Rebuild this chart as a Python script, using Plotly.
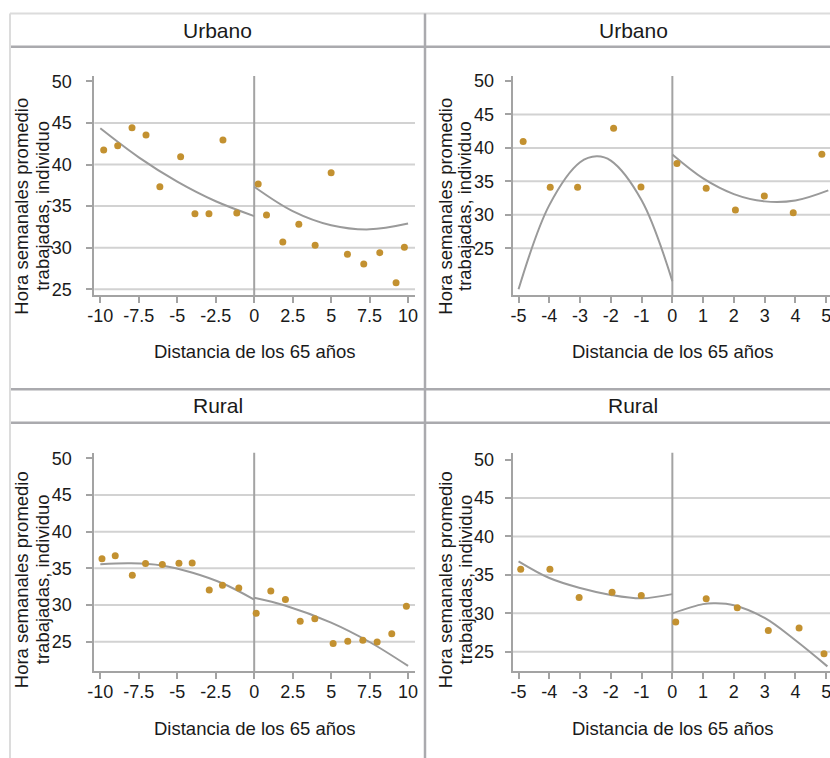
import plotly.graph_objects as go

W, H = 830, 758

# ---------------- data ----------------
# Panel A: Urbano, bandwidth 10
ua_px = [-9.78, -8.87, -7.94, -7.03, -6.13, -4.78, -3.85, -2.94, -2.03, -1.13,
         0.26, 0.80, 1.86, 2.90, 3.96, 5.00, 6.06, 7.12, 8.16, 9.22, 9.76]
ua_py = [41.74, 42.26, 44.43, 43.55, 37.33, 40.94, 34.09, 34.09, 42.95, 34.17,
         37.66, 33.93, 30.68, 32.81, 30.28, 39.02, 29.20, 28.04, 29.40, 25.79, 30.04]
ua_fit_lx = [-10, -7.5, -5, -2.5, 0]
ua_fit_ly = [44.35, 40.86, 37.94, 35.58, 33.80]
ua_fit_rx = [0, 2.5, 5, 7.5, 10]
ua_fit_ry = [37.33, 34.40, 32.70, 32.20, 32.90]

# Panel B: Urbano, bandwidth 5
ub_px = [-4.85, -3.97, -3.08, -1.91, -1.02, 0.15, 1.10, 2.05, 2.99, 3.93, 4.86]
ub_py = [40.95, 34.10, 34.10, 42.95, 34.15, 37.65, 33.95, 30.70, 32.80, 30.30, 39.05]
ub_fit_lx = [-5, -4, -3, -2.46, -2, -1, 0]
ub_fit_ly = [18.85, 31.44, 37.85, 38.75, 38.10, 32.17, 20.08]
ub_fit_rx = [0, 1, 2, 3, 4, 5.07]
ub_fit_ry = [39.00, 35.43, 33.09, 32.00, 32.13, 33.64]

# Panel C: Rural, bandwidth 10
rc_px = [-9.89, -9.03, -7.92, -7.06, -5.97, -4.89, -4.03, -2.92, -2.06, -1.00,
         0.13, 1.08, 2.03, 2.99, 3.94, 5.13, 6.08, 7.06, 7.99, 8.94, 9.89]
rc_py = [36.30, 36.71, 34.07, 35.66, 35.52, 35.71, 35.75, 32.06, 32.70, 32.33,
         28.87, 31.92, 30.74, 27.78, 28.14, 24.73, 25.05, 25.18, 24.95, 26.09, 29.83]
rc_fit_lx = [-10, -8, -6, -4, -2, 0]
rc_fit_ly = [35.57, 35.70, 35.40, 34.40, 32.90, 30.74]
rc_fit_rx = [0, 2, 5, 7.5, 10]
rc_fit_ry = [31.00, 29.94, 27.60, 24.95, 21.68]

# Panel D: Rural, bandwidth 5
rd_px = [-4.93, -3.98, -3.03, -1.96, -1.01, 0.11, 1.10, 2.11, 3.12, 4.12, 4.93]
rd_py = [35.73, 35.73, 32.07, 32.76, 32.33, 28.88, 31.90, 30.73, 27.76, 28.10, 24.74]
rd_fit_lx = [-5, -4, -3, -2, -1, 0]
rd_fit_ly = [36.77, 34.60, 33.30, 32.40, 31.95, 32.50]
rd_fit_rx = [0, 1, 1.4, 2, 3, 4, 5.04]
rd_fit_ry = [30.00, 31.20, 31.30, 31.05, 29.40, 26.50, 23.10]

y_ticks = [25, 30, 35, 40, 45, 50]
y_ticktext = ["25", "30", "35", "40", "45", "50"]
x10_ticks = [-10, -7.5, -5, -2.5, 0, 2.5, 5, 7.5, 10]
x10_text = ["-10", "-7.5", "-5", "-2.5", "0", "2.5", "5", "7.5", "10"]
x5_ticks = [-5, -4, -3, -2, -1, 0, 1, 2, 3, 4, 5]
x5_text = ["-5", "-4", "-3", "-2", "-1", "0", "1", "2", "3", "4", "5"]
grid_vals = [25, 30, 35, 40, 45]

strip_titles = ["Urbano", "Urbano", "Rural", "Rural"]
x_title = "Distancia de los 65 años"
y_title_1 = "Hora semanales promedio"
y_title_2 = "trabajadas, individuo"

# ---------------- styling ----------------
FONT = "Liberation Sans, Arial, sans-serif"
TXT = "#1a1a1a"
AX = "#a3a3a3"
GRID = "#d2d2d2"
FIT = "#9a9a9a"
DOT = "#c39130"
BORDER_D = "#aaaaae"
BORDER_L = "#dcdcdc"


def px(x):
    return x / W


def py(y):
    return 1 - y / H


panels = [
    (ua_px, ua_py, (ua_fit_lx, ua_fit_ly), (ua_fit_rx, ua_fit_ry), x10_ticks, x10_text,
     [-10.39, 10.45], [24.31, 50.64], (94.3, 415), (76, 295), 11),
    (ub_px, ub_py, (ub_fit_lx, ub_fit_ly), (ub_fit_rx, ub_fit_ry), x5_ticks, x5_text,
     [-5.19, 5.125], [18.0, 50.75], (512.7, 830), (76, 295), 7),
    (rc_px, rc_py, (rc_fit_lx, rc_fit_ly), (rc_fit_rx, rc_fit_ry), x10_ticks, x10_text,
     [-10.39, 10.45], [20.95, 50.79], (94.3, 415), (452.7, 671.3), 11),
    (rd_px, rd_py, (rd_fit_lx, rd_fit_ly), (rd_fit_rx, rd_fit_ry), x5_ticks, x5_text,
     [-5.19, 5.125], [22.46, 50.9], (512.7, 830), (452.7, 671.3), 7),
]

fig = go.Figure()
layout = dict(
    width=W, height=H, autosize=False,
    margin=dict(l=0, r=0, t=0, b=0, pad=0, autoexpand=False),
    paper_bgcolor="white", plot_bgcolor="white",
    showlegend=False,
    font=dict(family=FONT, color=TXT, size=18),
)
shapes = []
annotations = []

for i, (pxs, pys, fl, fr, xt, xtt, xr, yr, xd, yd, so) in enumerate(panels):
    n = "" if i == 0 else str(i + 1)
    xa, ya = "x" + n, "y" + n
    fig.add_trace(go.Scatter(x=fl[0], y=fl[1], xaxis=xa, yaxis=ya, mode="lines",
                             line=dict(color=FIT, width=2, shape="spline"),
                             hoverinfo="skip", cliponaxis=False))
    fig.add_trace(go.Scatter(x=fr[0], y=fr[1], xaxis=xa, yaxis=ya, mode="lines",
                             line=dict(color=FIT, width=2, shape="spline"),
                             hoverinfo="skip", cliponaxis=False))
    fig.add_trace(go.Scatter(x=pxs, y=pys, xaxis=xa, yaxis=ya, mode="markers",
                             marker=dict(color=DOT, size=7, line=dict(width=0)),
                             cliponaxis=False))
    layout["xaxis" + n] = dict(
        domain=[px(xd[0]), px(xd[1])], range=xr, anchor=ya, automargin=False,
        tickvals=xt, ticktext=xtt, showgrid=False, zeroline=False,
        showline=True, linecolor=AX, linewidth=2,
        ticks="outside", ticklen=6, tickwidth=2, tickcolor=AX,
        tickfont=dict(family=FONT, size=18, color=TXT),
        ticklabeloverflow="allow", ticklabelstandoff=-3,
    )
    layout["yaxis" + n] = dict(
        domain=[py(yd[1]), py(yd[0])], range=yr, anchor=xa, automargin=False,
        tickvals=y_ticks, ticktext=y_ticktext, showgrid=False, zeroline=False,
        showline=True, linecolor=AX, linewidth=2,
        ticks="outside", ticklen=6, tickwidth=2, tickcolor=AX,
        tickfont=dict(family=FONT, size=18, color=TXT),
        ticklabelstandoff=so, ticklabeloverflow="allow",
    )
    for g in grid_vals:
        shapes.append(dict(type="line", xref=xa + " domain", x0=0, x1=1,
                           yref=ya, y0=g, y1=g, layer="below",
                           line=dict(color=GRID, width=2)))
    shapes.append(dict(type="line", xref=xa, x0=0, x1=0,
                       yref=ya + " domain", y0=0, y1=1, layer="below",
                       line=dict(color=AX, width=2)))
    cx = (xd[0] + xd[1]) / 2 if i % 2 == 0 else 672.5
    ty = 351.7 if i < 2 else 728.3
    annotations.append(dict(text=x_title, xref="paper", yref="paper",
                            x=px(cx), y=py(ty), showarrow=False,
                            xanchor="center", yanchor="middle",
                            font=dict(family=FONT, size=18.5, color=TXT)))
    l1 = 21.7 if i % 2 == 0 else 445.7
    l2 = 42.7 if i % 2 == 0 else 465.0
    yc = 206 if i < 2 else 579.5
    for lx, t in ((l1, y_title_1), (l2, y_title_2)):
        annotations.append(dict(text=t, xref="paper", yref="paper",
                                x=px(lx), y=py(yc), showarrow=False, textangle=-90,
                                xanchor="center", yanchor="middle",
                                font=dict(family=FONT, size=18.5, color=TXT)))
    sx = 217.5 if i % 2 == 0 else 633.0
    sy = 30.0 if i < 2 else 405.7
    annotations.append(dict(text=strip_titles[i], xref="paper", yref="paper",
                            x=px(sx), y=py(sy), showarrow=False,
                            xanchor="center", yanchor="middle",
                            font=dict(family=FONT, size=21, color=TXT)))


def hline(y, color, w):
    shapes.append(dict(type="line", xref="paper", yref="paper",
                       x0=px(10), x1=1, y0=py(y), y1=py(y),
                       line=dict(color=color, width=w)))


def vline(x, color, w):
    shapes.append(dict(type="line", xref="paper", yref="paper",
                       x0=px(x), x1=px(x), y0=py(13.5), y1=0,
                       line=dict(color=color, width=w)))


hline(13.5, BORDER_L, 2)
hline(46.7, BORDER_D, 2.5)
hline(389.3, BORDER_D, 2.5)
hline(422.7, BORDER_D, 2.5)
vline(10, BORDER_L, 2)
vline(425, BORDER_D, 2.5)

layout["shapes"] = shapes
layout["annotations"] = annotations
fig.update_layout(**layout)
fig.write_html("out.html")
